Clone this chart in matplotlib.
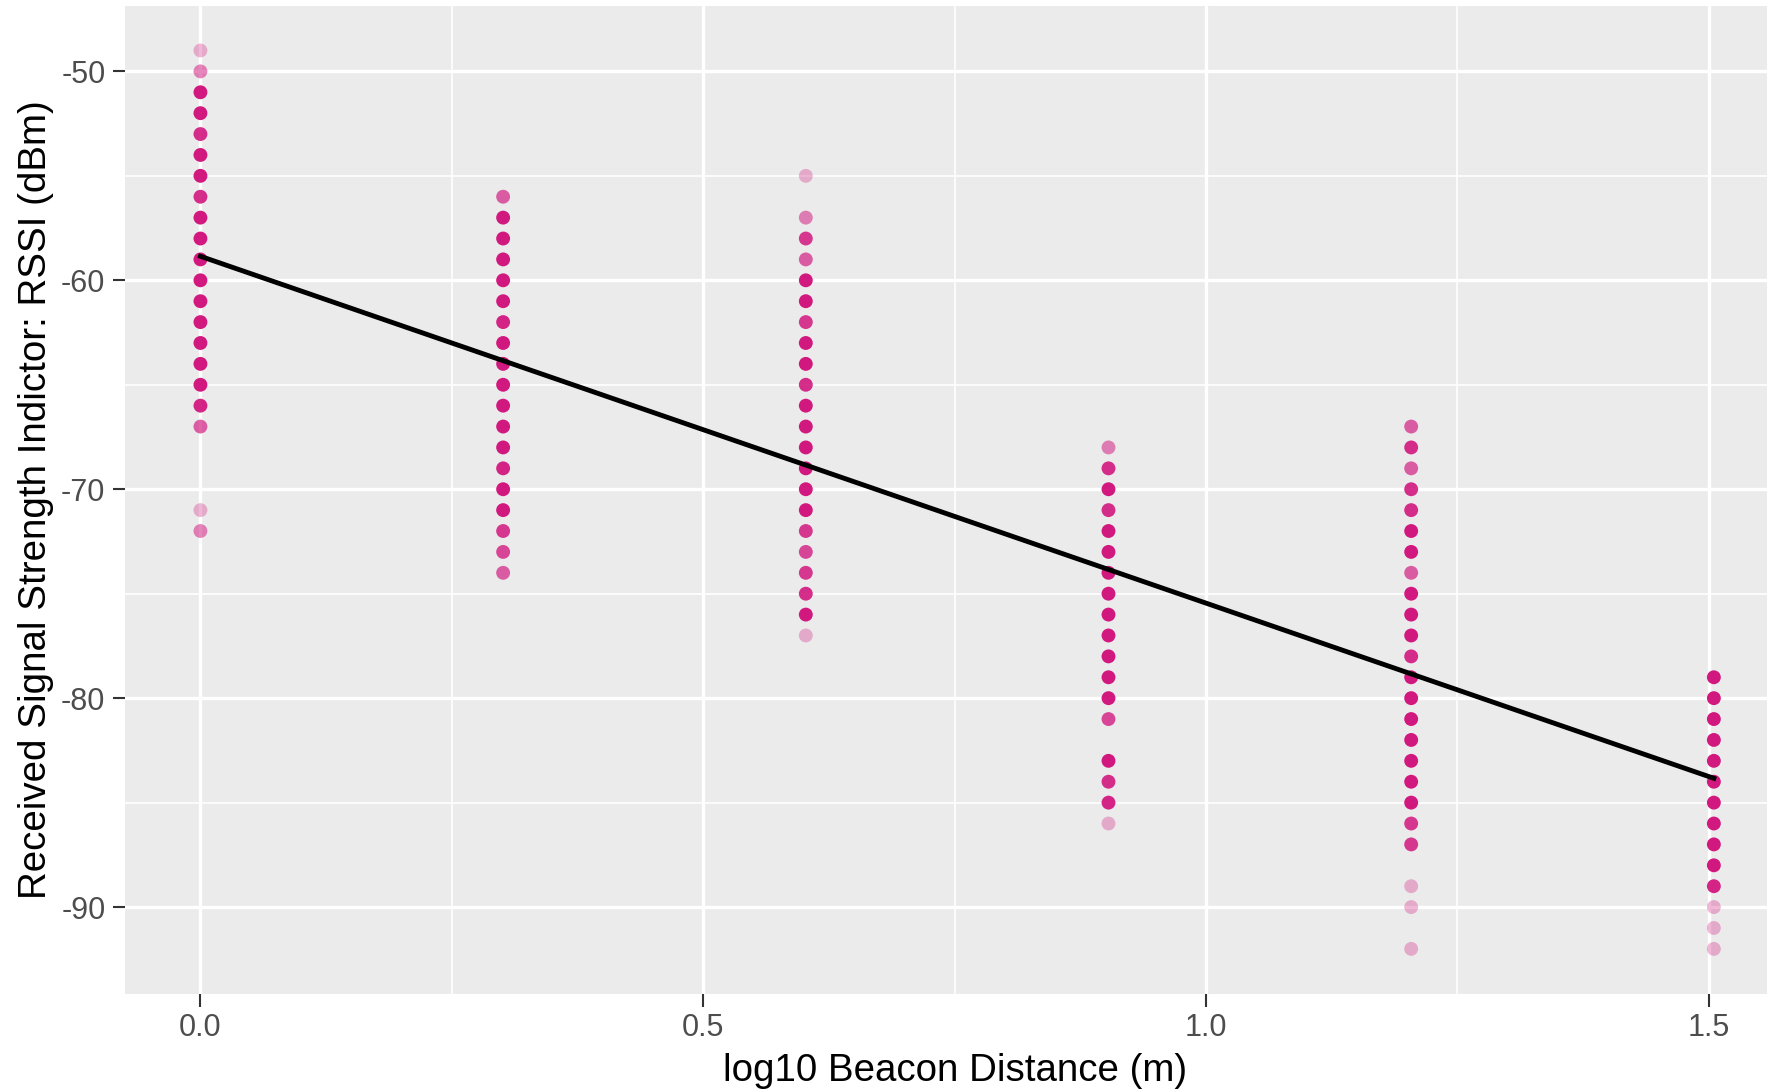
import numpy as np
import matplotlib.pyplot as plt
from matplotlib.colors import to_rgb

plt.rcParams["font.family"] = ["Liberation Sans", "DejaVu Sans"]
plt.rcParams["axes.unicode_minus"] = False

# beacon distances (m) and RSSI readings; counts = overlapping observations
distances = [1, 2, 4, 8, 16, 32]

rssi_1m = [-49, -50, -51, -52, -53, -54, -55, -56, -57, -58, -59, -60, -61,
           -62, -63, -64, -65, -66, -67, -71, -72]
count_1m = [1, 2, 10, 10, 6, 10, 10, 6, 10, 10, 10, 10, 10, 10, 10, 10, 10,
            7, 3, 1, 2]

rssi_2m = [-56, -57, -58, -59, -60, -61, -62, -63, -64, -65, -66, -67, -68,
           -69, -70, -71, -72, -73, -74]
count_2m = [3, 10, 10, 10, 10, 10, 7, 10, 10, 10, 10, 10, 10, 7, 10, 10, 5,
            4, 3]

rssi_4m = [-55, -57, -58, -59, -60, -61, -62, -63, -64, -65, -66, -67, -68,
           -69, -70, -71, -72, -73, -74, -75, -76, -77]
count_4m = [1, 2, 5, 3, 10, 10, 5, 10, 10, 6, 10, 10, 10, 10, 10, 10, 5, 4,
            5, 6, 10, 1]

rssi_8m = [-68, -69, -70, -71, -72, -73, -74, -75, -76, -77, -78, -79, -80,
           -81, -83, -84, -85, -86]
count_8m = [2, 6, 10, 6, 10, 10, 10, 10, 10, 10, 10, 10, 10, 4, 10, 6, 7, 1]

rssi_16m = [-67, -68, -69, -70, -71, -72, -73, -74, -75, -76, -77, -78, -79,
            -80, -81, -82, -83, -84, -85, -86, -87, -89, -90, -92]
count_16m = [3, 6, 3, 6, 6, 10, 10, 3, 10, 10, 10, 6, 10, 10, 10, 10, 10, 10,
             10, 5, 5, 1, 1, 1]

rssi_32m = [-79, -80, -81, -82, -83, -84, -85, -86, -87, -88, -89, -90, -91,
            -92]
count_32m = [10, 10, 10, 10, 10, 10, 10, 10, 10, 10, 7, 1, 1, 1]

rssi_cols = [rssi_1m, rssi_2m, rssi_4m, rssi_8m, rssi_16m, rssi_32m]
count_cols = [count_1m, count_2m, count_4m, count_8m, count_16m, count_32m]

# linear fit: RSSI = intercept + slope * log10(d)
fit_intercept = -58.85
fit_slope = -16.6

point_color = "#D1127C"
point_alpha = 0.3

fig = plt.figure(figsize=(17.67, 10.91), dpi=100)
ax = fig.add_axes([0.0707, 0.0891, 0.9293, 0.9058])
ax.set_facecolor("#EBEBEB")

rgb = to_rgb(point_color)
for d, vals, cnts in zip(distances, rssi_cols, count_cols):
    x = np.full(len(vals), np.log10(d))
    alphas = 1 - (1 - point_alpha) ** np.array(cnts)
    colors = [(rgb[0], rgb[1], rgb[2], a) for a in alphas]
    ax.scatter(x, vals, s=100, c=colors, linewidths=0, zorder=3)

xfit = np.log10([distances[0], distances[-1]])
ax.plot(xfit, fit_intercept + fit_slope * xfit, color="black",
        linewidth=3.5, zorder=4)

ax.set_xlim(-0.0751, 1.558)
ax.set_ylim(-94.15, -46.85)
ax.set_xticks([0.0, 0.5, 1.0, 1.5])
ax.set_xticklabels(["0.0", "0.5", "1.0", "1.5"])
ax.set_yticks([-90, -80, -70, -60, -50])
ax.set_xticks([0.25, 0.75, 1.25], minor=True)
ax.set_yticks([-85, -75, -65, -55], minor=True)

ax.grid(which="major", color="white", linewidth=2.4)
ax.grid(which="minor", color="white", linewidth=1.2)
ax.set_axisbelow(True)
for s in ax.spines.values():
    s.set_visible(False)

ax.tick_params(which="major", length=9, width=1.5, color="#333333",
               labelcolor="#4D4D4D", labelsize=22, pad=5)
ax.tick_params(which="minor", length=0)

ax.set_xlabel("log10 Beacon Distance (m)", fontsize=27.7, labelpad=6)
ax.set_ylabel("Received Signal Strength Indictor: RSSI (dBm)", fontsize=27.7,
              labelpad=5)
# the original panel runs past the right edge, so the title sits right of centre
ax.xaxis.set_label_coords(0.5058, -0.06)
ax.xaxis.label.set_va("top")

fig.savefig("out.png", dpi=100)
